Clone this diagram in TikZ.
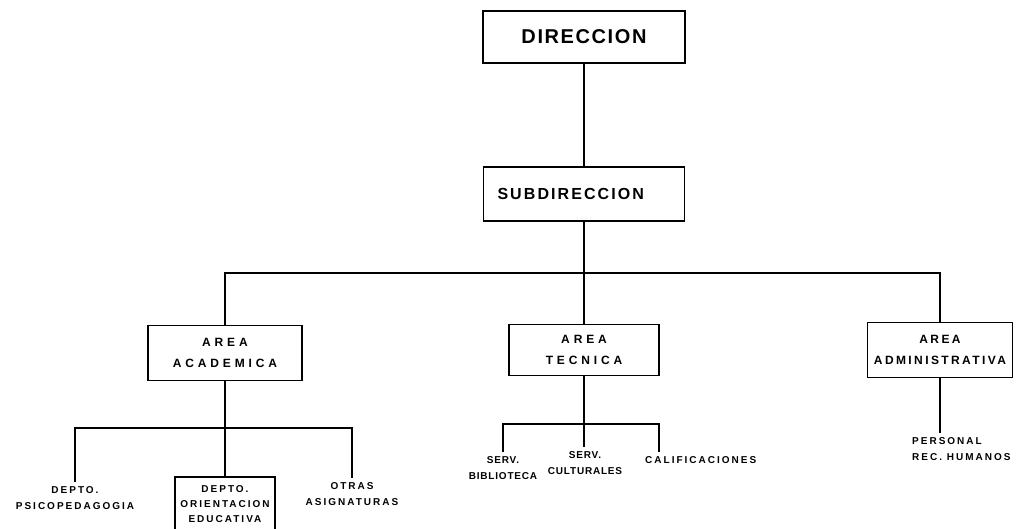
\documentclass[tikz,border=0pt]{standalone}
\usepackage{fontspec}
\setmainfont{Liberation Sans}
\newfontfamily\handfont[LetterSpace=20]{Liberation Sans}
\newfontfamily\handwide[LetterSpace=32]{Liberation Sans}
\newfontfamily\handtitle[LetterSpace=8]{Liberation Sans}
\newfontfamily\handsub[LetterSpace=13]{Liberation Sans}

\tikzset{
    unitbox/.style={draw, line width=1.6pt, inner sep=0pt, align=center,
        font={\handwide\bfseries\fontsize{12}{21}\selectfont}},
    deptlbl/.style={inner sep=4pt, align=center,
        font={\handfont\bfseries\fontsize{10}{16}\selectfont}},
    narrowlbl/.style={deptlbl, font={\handtitle\bfseries\fontsize{10}{16}\selectfont}},
    link/.style={line width=1.6pt},
}

\begin{document}
\begin{tikzpicture}[x=1pt, y=-1pt]
    \useasboundingbox (0,0) rectangle (1019,528);

    \node[unitbox, minimum width=202pt, minimum height=52pt,
        font={\handtitle\bfseries\fontsize{20}{24}\selectfont}] (dir) at (584,37) {DIRECCION};
    \node[unitbox, minimum height=54pt, text width=173pt, inner xsep=14pt, align=left,
        font={\handsub\bfseries\fontsize{16}{20}\selectfont}] (sub) at (584,194) {SUBDIRECCION};

    \node[unitbox, minimum width=154pt, minimum height=55pt] (acad) at (225,353) {AREA\\ACADEMICA};
    \node[unitbox, minimum width=150pt, minimum height=51pt] (tec) at (584,350) {AREA\\TECNICA};
    \node[unitbox, minimum width=145pt, minimum height=55pt,
        font={\handfont\bfseries\fontsize{12}{21}\selectfont}] (adm) at (940,350) {AREA\\ADMINISTRATIVA};

    \node[deptlbl, anchor=north] (psico) at (75,482) {DEPTO.\\PSICOPEDAGOGIA};
    \node[unitbox, anchor=north, minimum width=100pt, minimum height=54pt,
        font={\handfont\bfseries\fontsize{10}{15}\selectfont}] (orient) at (225,476) {DEPTO.\\ORIENTACION\\EDUCATIVA};
    \node[deptlbl, anchor=north] (otras) at (352,478) {OTRAS\\ASIGNATURAS};

    \node[narrowlbl, anchor=north] (bib) at (503,452) {SERV.\\BIBLIOTECA};
    \node[narrowlbl, anchor=north] (cult) at (585,447) {SERV.\\CULTURALES};
    \node[deptlbl, anchor=north west] (calif) at (641,452) {CALIFICACIONES};

    \node[deptlbl, anchor=north west, align=left] (pers) at (908,433) {PERSONAL\\REC. HUMANOS};

    \coordinate (j1) at (584,273);
    \coordinate (j2) at (225,428);
    \coordinate (j3) at (584,424);

    \draw[link] (dir) -- (sub);
    \draw[link] (sub) -- (j1) -- (tec);
    \draw[link] (acad.north) |- (j1) -| (adm.north);

    \draw[link] (acad) -- (orient);
    \draw[link] (psico.north) |- (j2) -| (otras.north);

    \draw[link] (tec) -- (j3);
    \draw[link] (j3) -- (j3 |- cult.north);
    \draw[link] (bib.north) |- (j3) -| ([xshift=18pt]calif.north west);

    \draw[link] (adm.south) -- (adm.south |- pers.north);
\end{tikzpicture}
\end{document}
